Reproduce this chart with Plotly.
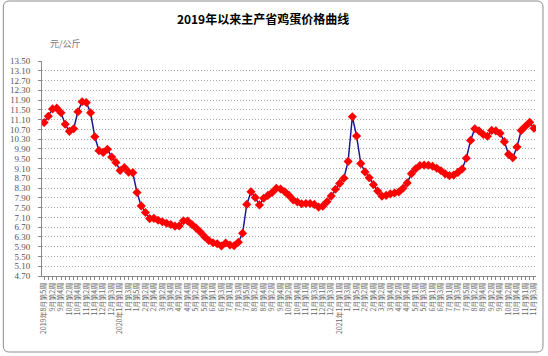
import plotly.graph_objects as go

title_text = "2019年以来主产省鸡蛋价格曲线"
unit_text = "元/公斤"

weeks = [
    "2019年8月第5周", "2019年9月第1周", "2019年9月第2周", "2019年9月第3周", "2019年9月第4周",
    "2019年10月第1周", "2019年10月第2周", "2019年10月第3周", "2019年10月第4周",
    "2019年11月第1周", "2019年11月第2周", "2019年11月第3周", "2019年11月第4周", "2019年11月第5周",
    "2019年12月第1周", "2019年12月第2周", "2019年12月第3周", "2019年12月第4周",
    "2020年1月第1周", "2020年1月第2周", "2020年1月第3周", "2020年1月第4周", "2020年1月第5周",
    "2020年2月第1周", "2020年2月第2周", "2020年2月第3周", "2020年2月第4周",
    "2020年3月第1周", "2020年3月第2周", "2020年3月第3周", "2020年3月第4周",
    "2020年4月第1周", "2020年4月第2周", "2020年4月第3周", "2020年4月第4周",
    "2020年5月第1周", "2020年5月第2周", "2020年5月第3周", "2020年5月第4周", "2020年5月第5周",
    "2020年6月第1周", "2020年6月第2周", "2020年6月第3周", "2020年6月第4周",
    "2020年7月第1周", "2020年7月第2周", "2020年7月第3周", "2020年7月第4周", "2020年7月第5周",
    "2020年8月第1周", "2020年8月第2周", "2020年8月第3周", "2020年8月第4周",
    "2020年9月第1周", "2020年9月第2周", "2020年9月第3周", "2020年9月第4周",
    "2020年10月第1周", "2020年10月第2周", "2020年10月第3周", "2020年10月第4周", "2020年10月第5周",
    "2020年11月第1周", "2020年11月第2周", "2020年11月第3周", "2020年11月第4周",
    "2020年12月第1周", "2020年12月第2周", "2020年12月第3周", "2020年12月第4周",
    "2021年1月第1周", "2021年1月第2周", "2021年1月第3周", "2021年1月第4周", "2021年1月第5周",
    "2021年2月第1周", "2021年2月第2周", "2021年2月第3周", "2021年2月第4周",
    "2021年3月第1周", "2021年3月第2周", "2021年3月第3周", "2021年3月第4周",
    "2021年4月第1周", "2021年4月第2周", "2021年4月第3周", "2021年4月第4周", "2021年4月第5周",
    "2021年5月第1周", "2021年5月第2周", "2021年5月第3周", "2021年5月第4周",
    "2021年6月第1周", "2021年6月第2周", "2021年6月第3周", "2021年6月第4周",
    "2021年7月第1周", "2021年7月第2周", "2021年7月第3周", "2021年7月第4周", "2021年7月第5周",
    "2021年8月第1周", "2021年8月第2周", "2021年8月第3周", "2021年8月第4周",
    "2021年9月第1周", "2021年9月第2周", "2021年9月第3周", "2021年9月第4周",
    "2021年10月第1周", "2021年10月第2周", "2021年10月第3周", "2021年10月第4周", "2021年10月第5周",
    "2021年11月第1周", "2021年11月第2周", "2021年11月第3周",
]

# labels shown under every other week
tick_labels = [
    "2019年8月第5周", "9月第2周", "9月第4周", "10月第2周", "10月第4周", "11月第2周", "11月第4周",
    "12月第1周", "12月第3周", "2020年1月第1周", "1月第3周", "1月第5周", "2月第2周", "2月第4周",
    "3月第2周", "3月第4周", "4月第2周", "4月第4周", "5月第2周", "5月第4周", "6月第1周", "6月第3周",
    "7月第1周", "7月第3周", "7月第5周", "8月第2周", "8月第4周", "9月第2周", "9月第4周",
    "10月第2周", "10月第4周", "11月第1周", "11月第3周", "12月第1周", "12月第3周",
    "2021年1月第1周", "1月第3周", "1月第5周", "2月第2周", "2月第4周", "3月第2周", "3月第4周",
    "4月第2周", "4月第4周", "5月第1周", "5月第3周", "6月第1周", "6月第3周", "7月第1周",
    "7月第3周", "7月第5周", "8月第2周", "8月第4周", "9月第2周", "9月第4周", "10月第2周",
    "10月第4周", "11月第1周", "11月第3周",
]

prices = [
    10.98, 11.24, 11.54, 11.57, 11.38, 10.91, 10.62, 10.73, 11.42, 11.83,
    11.80, 11.38, 10.40, 9.83, 9.76, 9.89, 9.57, 9.35, 9.02, 9.14,
    8.95, 8.93, 8.12, 7.57, 7.30, 7.05, 7.06, 6.98, 6.92, 6.86,
    6.81, 6.74, 6.75, 6.96, 6.95, 6.81, 6.66, 6.50, 6.31, 6.15,
    6.06, 6.02, 5.93, 6.05, 5.97, 5.94, 6.08, 6.45, 7.63, 8.15,
    7.91, 7.61, 7.88, 8.00, 8.12, 8.29, 8.26, 8.15, 8.00, 7.81,
    7.73, 7.66, 7.67, 7.67, 7.63, 7.52, 7.56, 7.74, 7.97, 8.25,
    8.49, 8.70, 9.39, 11.22, 10.43, 9.30, 8.96, 8.72, 8.44, 8.18,
    7.97, 8.00, 8.06, 8.10, 8.14, 8.29, 8.51, 8.89, 9.09, 9.22,
    9.24, 9.23, 9.19, 9.11, 9.01, 8.88, 8.81, 8.83, 8.94, 9.08,
    9.52, 10.25, 10.73, 10.64, 10.49, 10.42, 10.66, 10.64, 10.54, 10.20,
    9.68, 9.54, 9.98, 10.66, 10.83, 10.99, 10.75,
]

y_min, y_max, y_step = 4.70, 13.50, 0.40

tick_text = [tick_labels[i // 2] if i % 2 == 0 else "" for i in range(len(weeks))]

fig = go.Figure()
fig.add_trace(go.Scatter(
    x=weeks, y=prices, mode="lines+markers",
    line=dict(color="#1a1a99", width=1.5),
    marker=dict(symbol="diamond", size=7, color="#ff0000"),
    showlegend=False,
))

# chart-area frame (rounded rectangle) in paper coordinates
L, R, T, B = -0.0783, 1.0141, 1.2791, -0.3535
dx, dy = 0.012, 0.028
border_path = (
    f"M {L+dx},{T} L {R-dx},{T} Q {R},{T} {R},{T-dy} L {R},{B+dy} Q {R},{B} {R-dx},{B} "
    f"L {L+dx},{B} Q {L},{B} {L},{B+dy} L {L},{T-dy} Q {L},{T} {L+dx},{T} Z"
)

fig.update_layout(
    width=548, height=356,
    margin=dict(l=40, r=10, t=61, b=80),
    paper_bgcolor="white", plot_bgcolor="white",
    title=dict(text="<b>" + title_text + "</b>", xref="container", x=0.48, xanchor="center",
               yref="container", y=1 - 20 / 356, yanchor="middle",
               font=dict(family="Noto Sans CJK SC", size=12, color="black")),
    xaxis=dict(
        type="category", categoryorder="array", categoryarray=weeks,
        range=[-0.5, len(weeks) - 0.5],
        tickmode="array", tickvals=weeks, ticktext=tick_text,
        tickangle=-90, tickfont=dict(family="Noto Sans CJK SC", size=7, color="#666666"),
        ticks="outside", ticklen=3, tickcolor="#888888",
        showline=True, linecolor="#888888", linewidth=1,
        showgrid=False, zeroline=False,
    ),
    yaxis=dict(
        range=[y_min, y_max], tick0=y_min, dtick=y_step, tickformat=".2f",
        tickfont=dict(family="Liberation Serif", size=9, color="#555555"),
        ticks="outside", ticklen=3, tickcolor="#888888", ticklabelstandoff=6,
        showline=True, linecolor="#888888", linewidth=1,
        showgrid=True, gridcolor="#a8a8a8", griddash="1px,2px", gridwidth=1,
        zeroline=False,
    ),
    shapes=[dict(type="path", xref="paper", yref="paper", path=border_path,
                 line=dict(color="#8c8c8c", width=1), layer="above")],
    annotations=[dict(text=unit_text, xref="paper", yref="paper", x=(64 - 40) / 498,
                      y=(276 - 44) / 215, xanchor="center", yanchor="middle", showarrow=False,
                      font=dict(family="Noto Sans CJK SC", size=9, color="#777777"))],
)

fig.write_html("out.html", config={"displayModeBar": False},
               post_script="document.body.style.margin='0';")
